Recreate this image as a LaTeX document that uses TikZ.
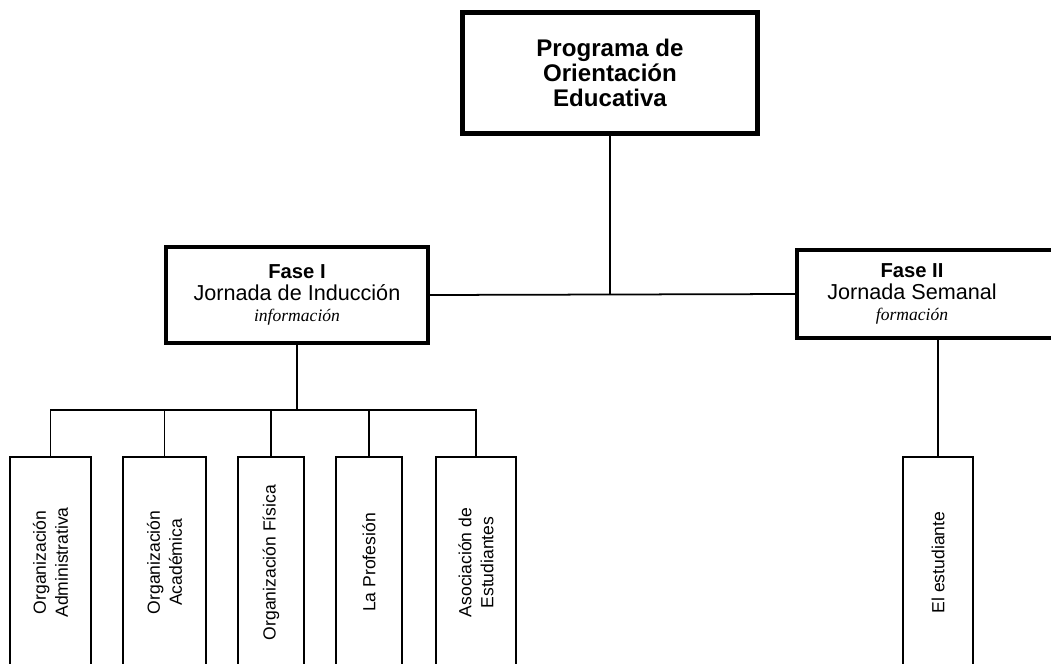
\documentclass[tikz,border=0pt]{standalone}
\usepackage{fontspec}
\setmainfont{Liberation Sans}
\newfontfamily\timesit{Liberation Serif}
\usetikzlibrary{positioning}
\tikzset{>=stealth,
  mainbox/.style={draw, line width=2.8pt, align=center, inner sep=2pt,
    minimum width=5.9cm, minimum height=2.42cm,
    font=\bfseries\fontsize{13.7}{14.3}\selectfont},
  fasebox/.style={draw, line width=2.4pt, inner sep=0pt},
  fasetext/.style={align=center, inner sep=0pt, font=\fontsize{12.3}{12.2}\selectfont},
  itembox/.style={draw, line width=1.1pt, rotate=90, align=center, inner sep=1pt,
    minimum width=4.22cm, font=\fontsize{10}{12.5}\selectfont},
  conn/.style={line width=1pt}
}
\newcommand{\fasetit}[1]{{\bfseries\fontsize{11.5}{12.2}\selectfont #1}}
\newcommand{\faseit}[1]{{\timesit\itshape\fontsize{10}{12.2}\selectfont #1}}

\begin{document}
\begin{tikzpicture}[x=0.02cm, y=-0.02cm]
  \useasboundingbox (0,0) rectangle (1051,663);

  % programa
  \node[mainbox] (prog) at (610,73) {Programa de\\Orientación\\Educativa};

  % fases
  \node[fasebox, minimum width=5.24cm, minimum height=1.92cm] (f1) at (297,295) {};
  \node[fasetext] (f1t) at (f1.center) {\fasetit{Fase I}\\Jornada de Inducción\\\faseit{información}};
  \node[fasebox, minimum width=5.64cm, minimum height=1.76cm] (f2) at (938,294) {};
  \node[fasetext] (f2t) at (912,294) {\fasetit{Fase II}\\Jornada Semanal\\\faseit{formación}};

  \draw[conn] (prog.south) -- (prog.south |- f1.east);
  \draw[conn] (f1.east) -- (f2.west);

  % temas de la fase I
  \node[itembox, minimum height=1.62cm] (b1) at (50.5,562.5) {Organización\\Administrativa};
  \node[itembox, minimum height=1.66cm] (b2) at (164.5,562.5) {Organización\\Académica};
  \node[itembox, minimum height=1.32cm] (b3) at (271,562.5) {Organización Física};
  \node[itembox, minimum height=1.32cm] (b4) at (369,562.5) {La Profesión};
  \node[itembox, minimum height=1.60cm] (b5) at (476,562.5) {Asociación de\\Estudiantes};

  % tema de la fase II
  \node[itembox, minimum height=1.40cm] (b6) at (938,562.5) {El estudiante};

  \coordinate (busy) at (0,410);
  \draw[conn] (f1.south) -- (f1.south |- busy);
  \draw[conn] (b1.east) |- (b5.east |- busy) -- (b5.east);
  \foreach \b in {b2,b3,b4}
  {
      \draw[conn] (\b.east) -- (\b.east |- busy);
  }
  \draw[conn] (f2.south) -- (b6.east);
\end{tikzpicture}
\end{document}
